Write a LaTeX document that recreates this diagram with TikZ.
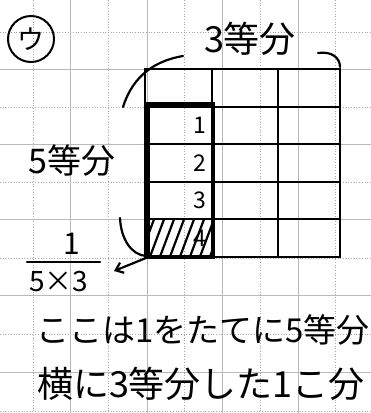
\documentclass[tikz,border=0pt]{standalone}
\usepackage{fontspec}
\newfontfamily\jp{Noto Sans CJK JP}
\usetikzlibrary{arrows.meta}

\begin{document}
\begin{tikzpicture}[
x=1pt, y=-1pt,
every node/.style = {inner sep=0pt, font=\jp},
fsz/.style = {font=\jp\fontsize{#1}{#1}\selectfont},
paper/.style = {gray!55, line width=0.6pt},
paperdot/.style = {gray!70, dotted, line width=0.7pt},
pen/.style = {line width=2.2pt, line cap=round},
]
\useasboundingbox (0,0) rectangle (371,413);
\fill[white] (0,0) rectangle (371,413);
\foreach \y in {69,144,219,295,372} \draw[paper] (0,\y) -- (371,\y);
\foreach \y in {32,107,182,258,334,411} \draw[paperdot] (0,\y) -- (371,\y);
\foreach \x in {70,147,222,298} \draw[paper] (\x,0) -- (\x,413);
\foreach \x in {33,108,184,260,335} \draw[paperdot] (\x,0) -- (\x,413);

\node[circle, draw, line width=2pt, minimum size=46pt, fsz=27] (mark) at (31,39) {ウ};

\draw[pen] (145,69) rectangle (340,257);
\foreach \x in {212,278} \draw[pen] (\x,69) -- (\x,257);
\foreach \y in {107,144,182,219} \draw[pen] (145,\y) -- (340,\y);

\begin{scope}
  \clip (148,219) rectangle (213,257);
  \foreach \i in {0,...,7} \draw[pen] (138+\i*10,262) -- (156+\i*10,214);
\end{scope}
\draw[line width=4pt] (148,104) rectangle (213,257);
\foreach \n/\y in {1/125,2/163,3/200,4/238} \node[fsz=23] (row\n) at (200,\y) {\n};

\node[fsz=36] (three) at (250,39) {3等分};
\draw[pen] (123,107) .. controls (131,82) and (148,62) .. (183,56);
\draw[pen] (318,53) .. controls (332,51) and (340,58) .. (340,67);

\node[fsz=34] (five) at (72,161) {5等分};
\draw[pen] (120,218) .. controls (121,240) and (132,255) .. (146,256);

\coordinate (corner) at (146,258);
\coordinate (tip) at (114,271);
\draw[pen, -{Straight Barb[length=7pt,width=11pt]}] (corner) -- (tip);

\node[fsz=30] (num) at (72,244) {1};
\coordinate (barl) at (27,262);
\coordinate (barr) at (100,262);
\draw[pen] (barl) -- (barr);
\node[fsz=28] (den) at (59,282) {5×3};

\node[fsz=33] (lineone) at (203,330) {ここは1をたてに5等分};
\node[fsz=36] (linetwo) at (201,384) {横に3等分した1こ分};
\end{tikzpicture}
\end{document}
